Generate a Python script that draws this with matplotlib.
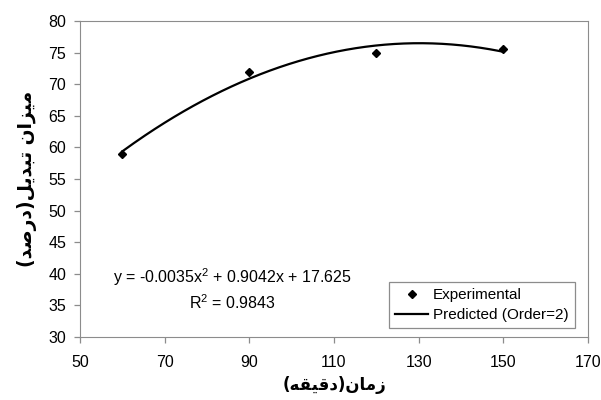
import numpy as np
import matplotlib
matplotlib.use("Agg")
import matplotlib.pyplot as plt

# reaction time (min) vs conversion (%)
time_min = [60, 90, 120, 150]
conversion = [59, 72, 75, 75.5]
fit_order = 2
x_ticks = [50, 70, 90, 110, 130, 150, 170]
y_ticks = [30, 35, 40, 45, 50, 55, 60, 65, 70, 75, 80]
eq_text = "y = -0.0035x$^2$ + 0.9042x + 17.625"
r2_text = "R$^2$ = 0.9843"
legend_labels = ["Experimental", "Predicted (Order=2)"]

# presentation forms (isolated, final, initial, medial); None = letter does not join to the next one
FORMS = {
    "ا": ("\uFE8D", "\uFE8E", None, None),
    "ب": ("\uFE8F", "\uFE90", "\uFE91", "\uFE92"),
    "ت": ("\uFE95", "\uFE96", "\uFE97", "\uFE98"),
    "د": ("\uFEA9", "\uFEAA", None, None),
    "ر": ("\uFEAD", "\uFEAE", None, None),
    "ز": ("\uFEAF", "\uFEB0", None, None),
    "ص": ("\uFEB9", "\uFEBA", "\uFEBB", "\uFEBC"),
    "ق": ("\uFED5", "\uFED6", "\uFED7", "\uFED8"),
    "ل": ("\uFEDD", "\uFEDE", "\uFEDF", "\uFEE0"),
    "م": ("\uFEE1", "\uFEE2", "\uFEE3", "\uFEE4"),
    "ن": ("\uFEE5", "\uFEE6", "\uFEE7", "\uFEE8"),
    "ه": ("\uFEE9", "\uFEEA", "\uFEEB", "\uFEEC"),
    "ی": ("\uFEF1", "\uFEF2", "\uFEF3", "\uFEF4"),
}


def shape(word):
    # join letters and return them in visual (left to right) order
    out = []
    for i, c in enumerate(word):
        prev_joins = i > 0 and FORMS[word[i - 1]][2] is not None
        next_joins = i < len(word) - 1 and FORMS[c][2] is not None
        iso, fin, ini, med = FORMS[c]
        if prev_joins and next_joins:
            out.append(med)
        elif prev_joins:
            out.append(fin)
        elif next_joins:
            out.append(ini)
        else:
            out.append(iso)
    return "".join(reversed(out))


x_label = "(" + shape("دقیقه") + ")" + shape("زمان")
y_label = "(" + shape("درصد") + ")" + shape("تبدیل") + " " + shape("میزان")

plt.rcParams["font.family"] = ["Liberation Sans", "DejaVu Sans"]
plt.rcParams["mathtext.fontset"] = "custom"
plt.rcParams["mathtext.rm"] = "Liberation Sans"
plt.rcParams["mathtext.it"] = "Liberation Sans"

fig = plt.figure(figsize=(6.01, 4.0), dpi=100)
ax = fig.add_axes([80 / 601, 63 / 400, 508 / 601, 316 / 400])

coef = np.polyfit(time_min, conversion, fit_order)
xs = np.linspace(min(time_min), max(time_min), 200)
ax.plot(time_min, conversion, "D", color="black", markersize=4.5, linestyle="none",
        label=legend_labels[0])
ax.plot(xs, np.polyval(coef, xs), color="black", linewidth=1.6, label=legend_labels[1])

ax.set_xlim(50, 170)
ax.set_ylim(30, 80)
ax.set_xticks(x_ticks)
ax.set_yticks(y_ticks)
for s in ax.spines.values():
    s.set_color("#8c8c8c")
ax.tick_params(colors="#8c8c8c", labelcolor="black", labelsize=11.5, length=4, width=0.9,
               direction="out")
ax.tick_params(axis="x", pad=9)
ax.tick_params(axis="y", pad=6)

ax.text(86.1, 39.5, eq_text, fontsize=11.5, ha="center", va="center")
ax.text(86.1, 35.4, r2_text, fontsize=11.5, ha="center", va="center")

leg = ax.legend(loc="lower right", bbox_to_anchor=(0.974, 0.028), borderaxespad=0,
                fontsize=11, fancybox=False, framealpha=1, edgecolor="#8c8c8c",
                handlelength=2.2, handletextpad=0.3, borderpad=0.4, labelspacing=0.4)
leg.get_frame().set_linewidth(0.9)

ax.set_xlabel(x_label, family="DejaVu Sans", fontweight="bold", fontsize=12, labelpad=4)
ax.set_ylabel(y_label, family="DejaVu Sans", fontweight="bold", fontsize=13.5, labelpad=8)

fig.savefig("out.png", dpi=100)
